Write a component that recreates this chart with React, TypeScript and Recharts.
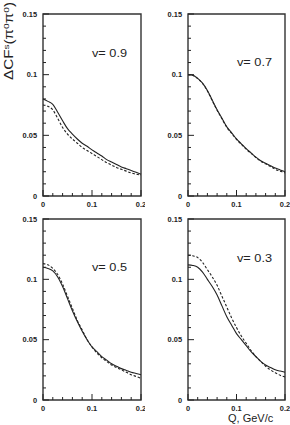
import React from 'react';
import { LineChart, Line, XAxis, YAxis, ReferenceArea } from 'recharts';

// Q values (GeV/c) shared by all panels
const qValues = [
  0, 0.01, 0.02, 0.03, 0.04, 0.05, 0.06, 0.07, 0.08, 0.09, 0.1,
  0.11, 0.12, 0.13, 0.14, 0.15, 0.16, 0.17, 0.18, 0.19, 0.2,
];

// v = 0.9
const solidV09 = [
  0.08, 0.078, 0.0755, 0.069, 0.062, 0.0555, 0.051, 0.047, 0.0435, 0.041, 0.038,
  0.0355, 0.033, 0.03, 0.028, 0.026, 0.024, 0.0225, 0.021, 0.0195, 0.018,
];
const dashedV09 = [
  0.075, 0.074, 0.071, 0.064, 0.0565, 0.051, 0.047, 0.0435, 0.04, 0.0375, 0.035,
  0.0325, 0.03, 0.0275, 0.0255, 0.0235, 0.022, 0.0205, 0.019, 0.018, 0.0172,
];

// v = 0.7
const solidV07 = [
  0.1, 0.0995, 0.097, 0.093, 0.087, 0.079, 0.071, 0.064, 0.057, 0.052, 0.047,
  0.043, 0.039, 0.0355, 0.032, 0.029, 0.027, 0.025, 0.023, 0.0215, 0.02,
];
const dashedV07 = [
  0.1, 0.0993, 0.0967, 0.0927, 0.0866, 0.0786, 0.0706, 0.0636, 0.0566, 0.0516, 0.0466,
  0.0426, 0.0386, 0.0351, 0.0316, 0.0286, 0.0265, 0.0243, 0.022, 0.0205, 0.019,
];

// v = 0.5
const solidV05 = [
  0.11, 0.109, 0.107, 0.102, 0.094, 0.084, 0.074, 0.065, 0.057, 0.05, 0.044,
  0.04, 0.036, 0.033, 0.03, 0.028, 0.026, 0.0245, 0.023, 0.022, 0.021,
];
const dashedV05 = [
  0.113, 0.112, 0.109, 0.104, 0.096, 0.086, 0.076, 0.066, 0.058, 0.05, 0.044,
  0.039, 0.035, 0.032, 0.029, 0.027, 0.025, 0.023, 0.021, 0.0195, 0.018,
];

// v = 0.3
const solidV03 = [
  0.112, 0.1115, 0.11, 0.106, 0.1, 0.094, 0.087, 0.078, 0.069, 0.062, 0.055,
  0.05, 0.045, 0.04, 0.036, 0.032, 0.029, 0.027, 0.025, 0.024, 0.023,
];
const dashedV03 = [
  0.12, 0.1195, 0.118, 0.114, 0.108, 0.102, 0.095, 0.086, 0.077, 0.068, 0.06,
  0.053, 0.047, 0.041, 0.036, 0.032, 0.028, 0.025, 0.0225, 0.0205, 0.019,
];

const yTicks = [
  0, 0.01, 0.02, 0.03, 0.04, 0.05, 0.06, 0.07, 0.08, 0.09, 0.1,
  0.11, 0.12, 0.13, 0.14, 0.15,
];
const yTickLabels = new Map<number, string>([
  [0, '0'], [0.05, '0.05'], [0.1, '0.1'], [0.15, '0.15'],
]);
const xTicks = [0, 0.02, 0.04, 0.06, 0.08, 0.1, 0.12, 0.14, 0.16, 0.18, 0.2];
const xTickLabels = new Map<number, string>([
  [0, '0'], [0.1, '0.1'], [0.2, '0.2'],
]);

const panelLabels = ['v= 0.9', 'v= 0.7', 'v= 0.5', 'v= 0.3'];

const FONT = '"Liberation Sans", Arial, Helvetica, sans-serif';
const INK = '#222';
const Y_MARGIN = 6;
const X_MARGIN = 3;

const YTick = (props: any) => {
  const { x, y, payload } = props;
  const label = yTickLabels.get(payload.value);
  const ax = x + Y_MARGIN;
  return (
    <g>
      <line x1={ax} x2={ax + (label ? 6 : 3)} y1={y} y2={y} stroke={INK} strokeWidth={1} />
      {label && (
        <text x={x} y={y} dy={2.6} textAnchor="end" fontSize={7.4} fontWeight="bold" fontFamily={FONT} fill={INK}>
          {label}
        </text>
      )}
    </g>
  );
};

const XTick = (props: any) => {
  const { x, y, payload } = props;
  const label = xTickLabels.get(payload.value);
  const ay = y - X_MARGIN;
  return (
    <g>
      <line x1={x} x2={x} y1={ay} y2={ay - (label ? 6 : 3)} stroke={INK} strokeWidth={1} />
      {label && (
        <text x={x} y={y} dy={7.6} textAnchor="middle" fontSize={7.4} fontWeight="bold" fontFamily={FONT} fill={INK}>
          {label}
        </text>
      )}
    </g>
  );
};

interface PanelProps {
  left: number;
  top: number;
  width: number;
  height: number;
  margin: { top: number; right: number; bottom: number; left: number };
  yAxisWidth: number;
  solid: number[];
  dashed: number[];
}

const Panel: React.FC<PanelProps> = ({ left, top, width, height, margin, yAxisWidth, solid, dashed }) => {
  const data = qValues.map((q, i) => ({ q, solid: solid[i], dashed: dashed[i] }));
  return (
    <div style={{ position: 'absolute', left, top }}>
      <LineChart width={width} height={height} data={data} margin={margin}>
        <XAxis
          dataKey="q"
          type="number"
          domain={[0, 0.2]}
          ticks={xTicks}
          interval={0}
          axisLine={false}
          tickLine={false}
          tickSize={0}
          tickMargin={X_MARGIN}
          height={12}
          tick={<XTick />}
        />
        <YAxis
          type="number"
          domain={[0, 0.15]}
          ticks={yTicks}
          interval={0}
          axisLine={false}
          tickLine={false}
          tickSize={0}
          tickMargin={Y_MARGIN}
          width={yAxisWidth}
          tick={<YTick />}
        />
        <ReferenceArea x1={0} x2={0.2} y1={0} y2={0.15} fill="none" stroke="#333" strokeWidth={1.4} />
        <Line type="monotone" dataKey="solid" stroke={INK} strokeWidth={1.1} dot={false} isAnimationActive={false} />
        <Line type="monotone" dataKey="dashed" stroke={INK} strokeWidth={1.1} strokeDasharray="2.5 1.8" dot={false} isAnimationActive={false} />
      </LineChart>
    </div>
  );
};

export default function App() {
  return (
    <div style={{ position: 'absolute', left: 0, top: 0, width: 290, height: 425, background: '#fff', overflow: 'hidden' }}>
      <Panel left={0} top={0} width={145} height={212} yAxisWidth={43}
        margin={{ top: 14, right: 4, bottom: 4, left: 0 }} solid={solidV09} dashed={dashedV09} />
      <Panel left={145} top={0} width={145} height={212} yAxisWidth={43}
        margin={{ top: 14, right: 5, bottom: 4, left: 0 }} solid={solidV07} dashed={dashedV07} />
      <Panel left={0} top={212} width={145} height={213} yAxisWidth={43}
        margin={{ top: 7, right: 4, bottom: 13, left: 0 }} solid={solidV05} dashed={dashedV05} />
      <Panel left={145} top={212} width={145} height={213} yAxisWidth={43}
        margin={{ top: 7, right: 5, bottom: 13, left: 0 }} solid={solidV03} dashed={dashedV03} />
      <svg width={290} height={425} style={{ position: 'absolute', left: 0, top: 0, pointerEvents: 'none' }}>
        <text transform="translate(13,80) rotate(-90)" fontSize={12} fontFamily={FONT} fill={INK}
          textLength={78} lengthAdjust="spacingAndGlyphs">
          ΔCF<tspan dy={-4} fontSize={8}>s</tspan>
          <tspan dy={4}>(π</tspan>
          <tspan dy={-4} fontSize={8}>0</tspan>
          <tspan dy={4}>π</tspan>
          <tspan dy={-4} fontSize={8}>0</tspan>
          <tspan dy={4}>)</tspan>
        </text>
        <text x={92} y={57} fontSize={11} fontFamily={FONT} fill={INK} textLength={35} lengthAdjust="spacingAndGlyphs">{panelLabels[0]}</text>
        <text x={237} y={66} fontSize={11} fontFamily={FONT} fill={INK} textLength={35} lengthAdjust="spacingAndGlyphs">{panelLabels[1]}</text>
        <text x={92} y={271} fontSize={11} fontFamily={FONT} fill={INK} textLength={35} lengthAdjust="spacingAndGlyphs">{panelLabels[2]}</text>
        <text x={237} y={262} fontSize={11} fontFamily={FONT} fill={INK} textLength={35} lengthAdjust="spacingAndGlyphs">{panelLabels[3]}</text>
        <text x={228} y={422} fontSize={11} fontFamily={FONT} fill={INK}>Q, GeV/c</text>
      </svg>
    </div>
  );
}
